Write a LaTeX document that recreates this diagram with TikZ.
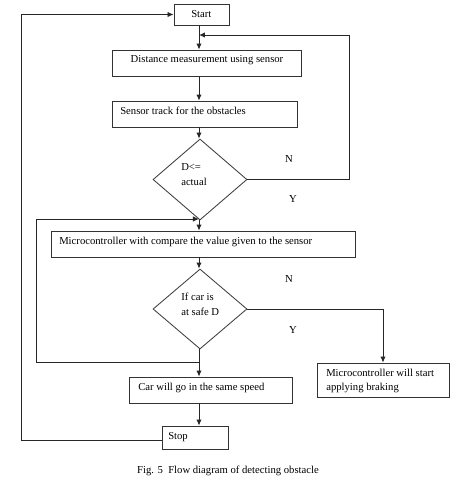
\documentclass[tikz,border=0pt]{standalone}
\usepackage{fontspec}
\setmainfont{Liberation Serif}
\usetikzlibrary{shapes.geometric,arrows.meta}
\begin{document}
\begin{tikzpicture}[x=0.75pt,y=-0.75pt,
  box/.style={draw=black!80, line width=0.65pt, inner sep=0pt, rectangle},
  dia/.style={draw=black!75, line width=0.65pt, inner sep=0pt, diamond, minimum width=70.5pt, minimum height=60.75pt},
  lbl/.style={inner sep=0pt, font=\fontsize{8}{10.5}\selectfont},
  conn/.style={draw=black!85, line width=0.65pt},
  arr/.style={conn, -{Latex[length=4.5pt,width=4pt]}}]
\useasboundingbox (0,0) rectangle (474,480);
% boxes
\node[box, minimum width=41.25pt, minimum height=15.75pt] (start) at (201.5,14.5) {};
\node[box, minimum width=141.75pt, minimum height=19.5pt] (dist) at (206.5,63) {};
\node[box, minimum width=138.75pt, minimum height=19.5pt] (track) at (204.5,114) {};
\node[dia] (d1) at (200,179.5) {};
\node[box, minimum width=228pt, minimum height=19.5pt] (micro) at (203,244) {};
\node[dia, minimum height=60pt] (d2) at (200,309) {};
\node[box, minimum width=99pt, minimum height=25.5pt] (brake) at (383,380) {};
\node[box, minimum width=122.25pt, minimum height=19.5pt] (car) at (210.5,390) {};
\node[box, minimum width=49.5pt, minimum height=17.25pt] (stop) at (195,437.5) {};
% texts
\node[lbl, anchor=west] (tstart) at (191,14) {Start};
\node[lbl] (tdist) at (207,60) {Distance measurement using sensor};
\node[lbl, anchor=west] (ttrack) at (120,111) {Sensor track for the obstacles};
\node[lbl, anchor=west] (td1a) at (181,167) {D<=};
\node[lbl, anchor=west] (td1b) at (181,182) {actual};
\node[lbl, anchor=west] (tmicro) at (59,242) {Microcontroller with compare the value given to the sensor};
\node[lbl, anchor=west] (td2a) at (181,297) {If car is};
\node[lbl, anchor=west] (td2b) at (181,312) {at safe D};
\node[lbl, anchor=west] (tcar) at (138,388) {Car will go in the same speed};
\node[lbl, anchor=west, align=left] (tbrake) at (326,381) {Microcontroller will start\\applying braking};
\node[lbl, anchor=west] (tstop) at (168,437) {Stop};
\node[lbl] (n1) at (289,159) {N};
\node[lbl] (y1) at (293,199) {Y};
\node[lbl] (n2) at (289,279) {N};
\node[lbl] (y2) at (293,330) {Y};
\node[lbl] (cap) at (228,471) {Fig. 5\ \ Flow diagram of detecting obstacle};
% coordinates
\coordinate (ax) at (199,0);
\coordinate (j1) at (199,35);
\coordinate (r1) at (349,35);
\coordinate (j2) at (199,219);
\coordinate (l2) at (36,219);
\coordinate (j3) at (199,362);
\coordinate (l3) at (36,362);
\coordinate (lt) at (21,14.5);
\coordinate (lb) at (21,440);
% connectors
\draw[arr] (start.south -| ax) -- (dist.north -| ax);
\draw[arr] (dist.south -| ax) -- (track.north -| ax);
\draw[arr] (track.south -| ax) -- (d1.north -| ax);
\draw[arr] (d1.east) -- (d1.east -| r1) -- (r1) -- (j1);
\draw[arr] (d1.south -| ax) -- (micro.north -| ax);
\draw[arr] (j3) -- (l3) -- (l2) -- (j2);
\draw[arr] (micro.south -| ax) -- (d2.north -| ax);
\draw[arr] (d2.east) -- (d2.east -| brake.north) -- (brake.north);
\draw[arr] (d2.south -| ax) -- (car.north -| ax);
\draw[arr] (car.south -| ax) -- (stop.north -| ax);
\draw[arr] (stop.west |- lb) -- (lb) -- (lt) -- (start.west);
\end{tikzpicture}
\end{document}
